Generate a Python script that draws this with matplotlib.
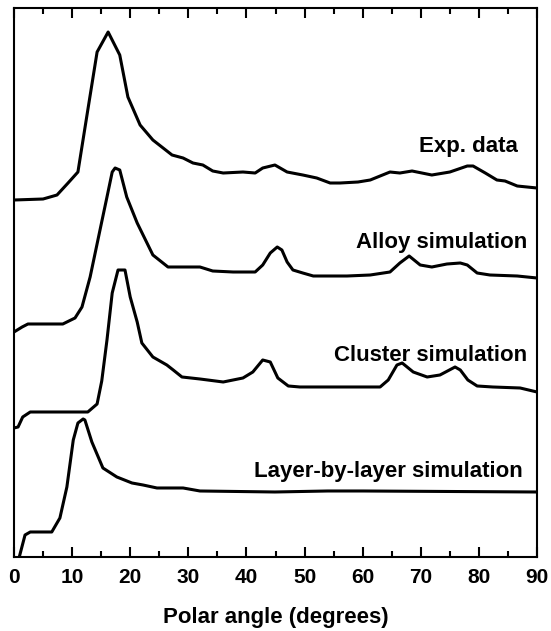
import matplotlib.pyplot as plt
from matplotlib.ticker import MultipleLocator

plt.rcParams['font.family'] = ['Liberation Sans', 'DejaVu Sans']

# polar angle (deg) / intensity (arb. units, curves already offset)
exp_angle = [0.0, 5.0, 7.4, 9.3, 11.0, 12.7, 14.3, 16.2, 18.2, 19.6, 21.7, 23.9,
             27.2, 29.1, 30.8, 32.5, 34.2, 36.0, 39.4, 41.5, 42.8, 44.9, 47.0,
             49.7, 52.1, 54.4, 56.1, 59.2, 61.3, 64.7, 66.4, 68.5, 71.9, 75.0,
             78.0, 79.0, 81.1, 83.1, 84.5, 86.6, 90.0]
exp_int = [357, 358, 362, 374, 385, 447, 505, 525, 502, 460, 432, 417,
           402, 399, 394, 392, 386, 384, 385, 384, 389, 392, 385,
           382, 379, 374, 374, 375, 377, 385, 384, 386, 382, 385,
           391, 391, 384, 377, 376, 371, 369]

alloy_angle = [0.0, 1.4, 2.4, 8.4, 10.5, 11.7, 13.1, 14.8, 16.0, 16.9, 17.4, 18.2,
               19.4, 21.2, 23.9, 26.5, 28.0, 32.0, 34.2, 37.7, 41.5, 42.8, 44.1,
               45.3, 46.1, 47.0, 48.0, 49.7, 51.5, 57.3, 61.3, 64.7, 66.4, 68.0,
               69.9, 71.9, 74.5, 76.8, 78.0, 79.7, 81.9, 86.6, 90.0]
alloy_int = [225, 230, 233, 233, 239, 250, 280, 327, 360, 385, 389, 387,
             360, 334, 302, 290, 290, 290, 286, 285, 285, 292, 304,
             310, 307, 295, 287, 284, 281, 281, 282, 285, 294, 301,
             292, 290, 293, 294, 292, 284, 282, 281, 279]

cluster_angle = [0.0, 0.7, 1.5, 2.8, 12.7, 14.3, 15.1, 16.0, 16.9, 17.9, 19.1, 20.0,
                 21.2, 22.0, 23.9, 26.3, 27.4, 28.9, 32.0, 36.0, 39.4, 41.1, 42.8,
                 44.1, 45.4, 47.2, 49.2, 63.0, 64.4, 65.9, 66.8, 68.7, 71.1, 73.3,
                 75.9, 76.8, 78.1, 79.7, 82.4, 87.1, 90.0]
cluster_int = [129, 130, 140, 145, 145, 153, 176, 217, 264, 287, 287, 260,
               235, 214, 200, 192, 187, 180, 178, 175, 179, 185, 197,
               195, 179, 171, 170, 170, 177, 192, 194, 185, 180, 182,
               190, 187, 177, 171, 170, 169, 165]

layer_angle = [1.0, 1.9, 2.8, 6.5, 7.9, 9.1, 10.2, 11.0, 11.9, 12.2, 13.4, 15.3,
               17.7, 20.3, 22.2, 24.6, 26.3, 29.1, 32.0, 44.9, 54.0, 60.0, 90.0]
layer_int = [2, 22, 25, 25, 39, 70, 117, 134, 138, 137, 115, 89,
             80, 74, 72, 69, 69, 69, 66, 65, 66, 66, 65]

labels = ['Exp. data', 'Alloy simulation', 'Cluster simulation',
          'Layer-by-layer simulation']
label_x = [86.7, 88.3, 88.3, 87.6]
label_y = [405, 309, 196, 80]

fig = plt.figure(figsize=(5.51, 6.31), dpi=100)
ax = fig.add_axes([0.0254, 0.1173, 0.9492, 0.870])

for xs, ys in [(exp_angle, exp_int), (alloy_angle, alloy_int),
               (cluster_angle, cluster_int), (layer_angle, layer_int)]:
    ax.plot(xs, ys, color='black', lw=2.2, solid_joinstyle='round')

for txt, tx, ty in zip(labels, label_x, label_y):
    ax.text(tx, ty, txt, ha='right', va='baseline', fontsize=16, fontweight='bold')

ax.set_xlim(0, 90)
ax.set_ylim(0, 549)
ax.xaxis.set_major_locator(MultipleLocator(10))
ax.xaxis.set_minor_locator(MultipleLocator(5))
ax.tick_params(axis='x', which='both', direction='in', top=True, bottom=True,
               width=1.5, labelsize=15, pad=8)
ax.tick_params(axis='x', which='major', length=7)
ax.tick_params(axis='x', which='minor', length=4.5)
ax.set_yticks([])
for lab in ax.get_xticklabels():
    lab.set_fontweight('bold')
for sp in ax.spines.values():
    sp.set_linewidth(1.5)

ax.set_xlabel('Polar angle (degrees)', fontsize=16, fontweight='bold', labelpad=14)

fig.savefig('out.png', dpi=100)
